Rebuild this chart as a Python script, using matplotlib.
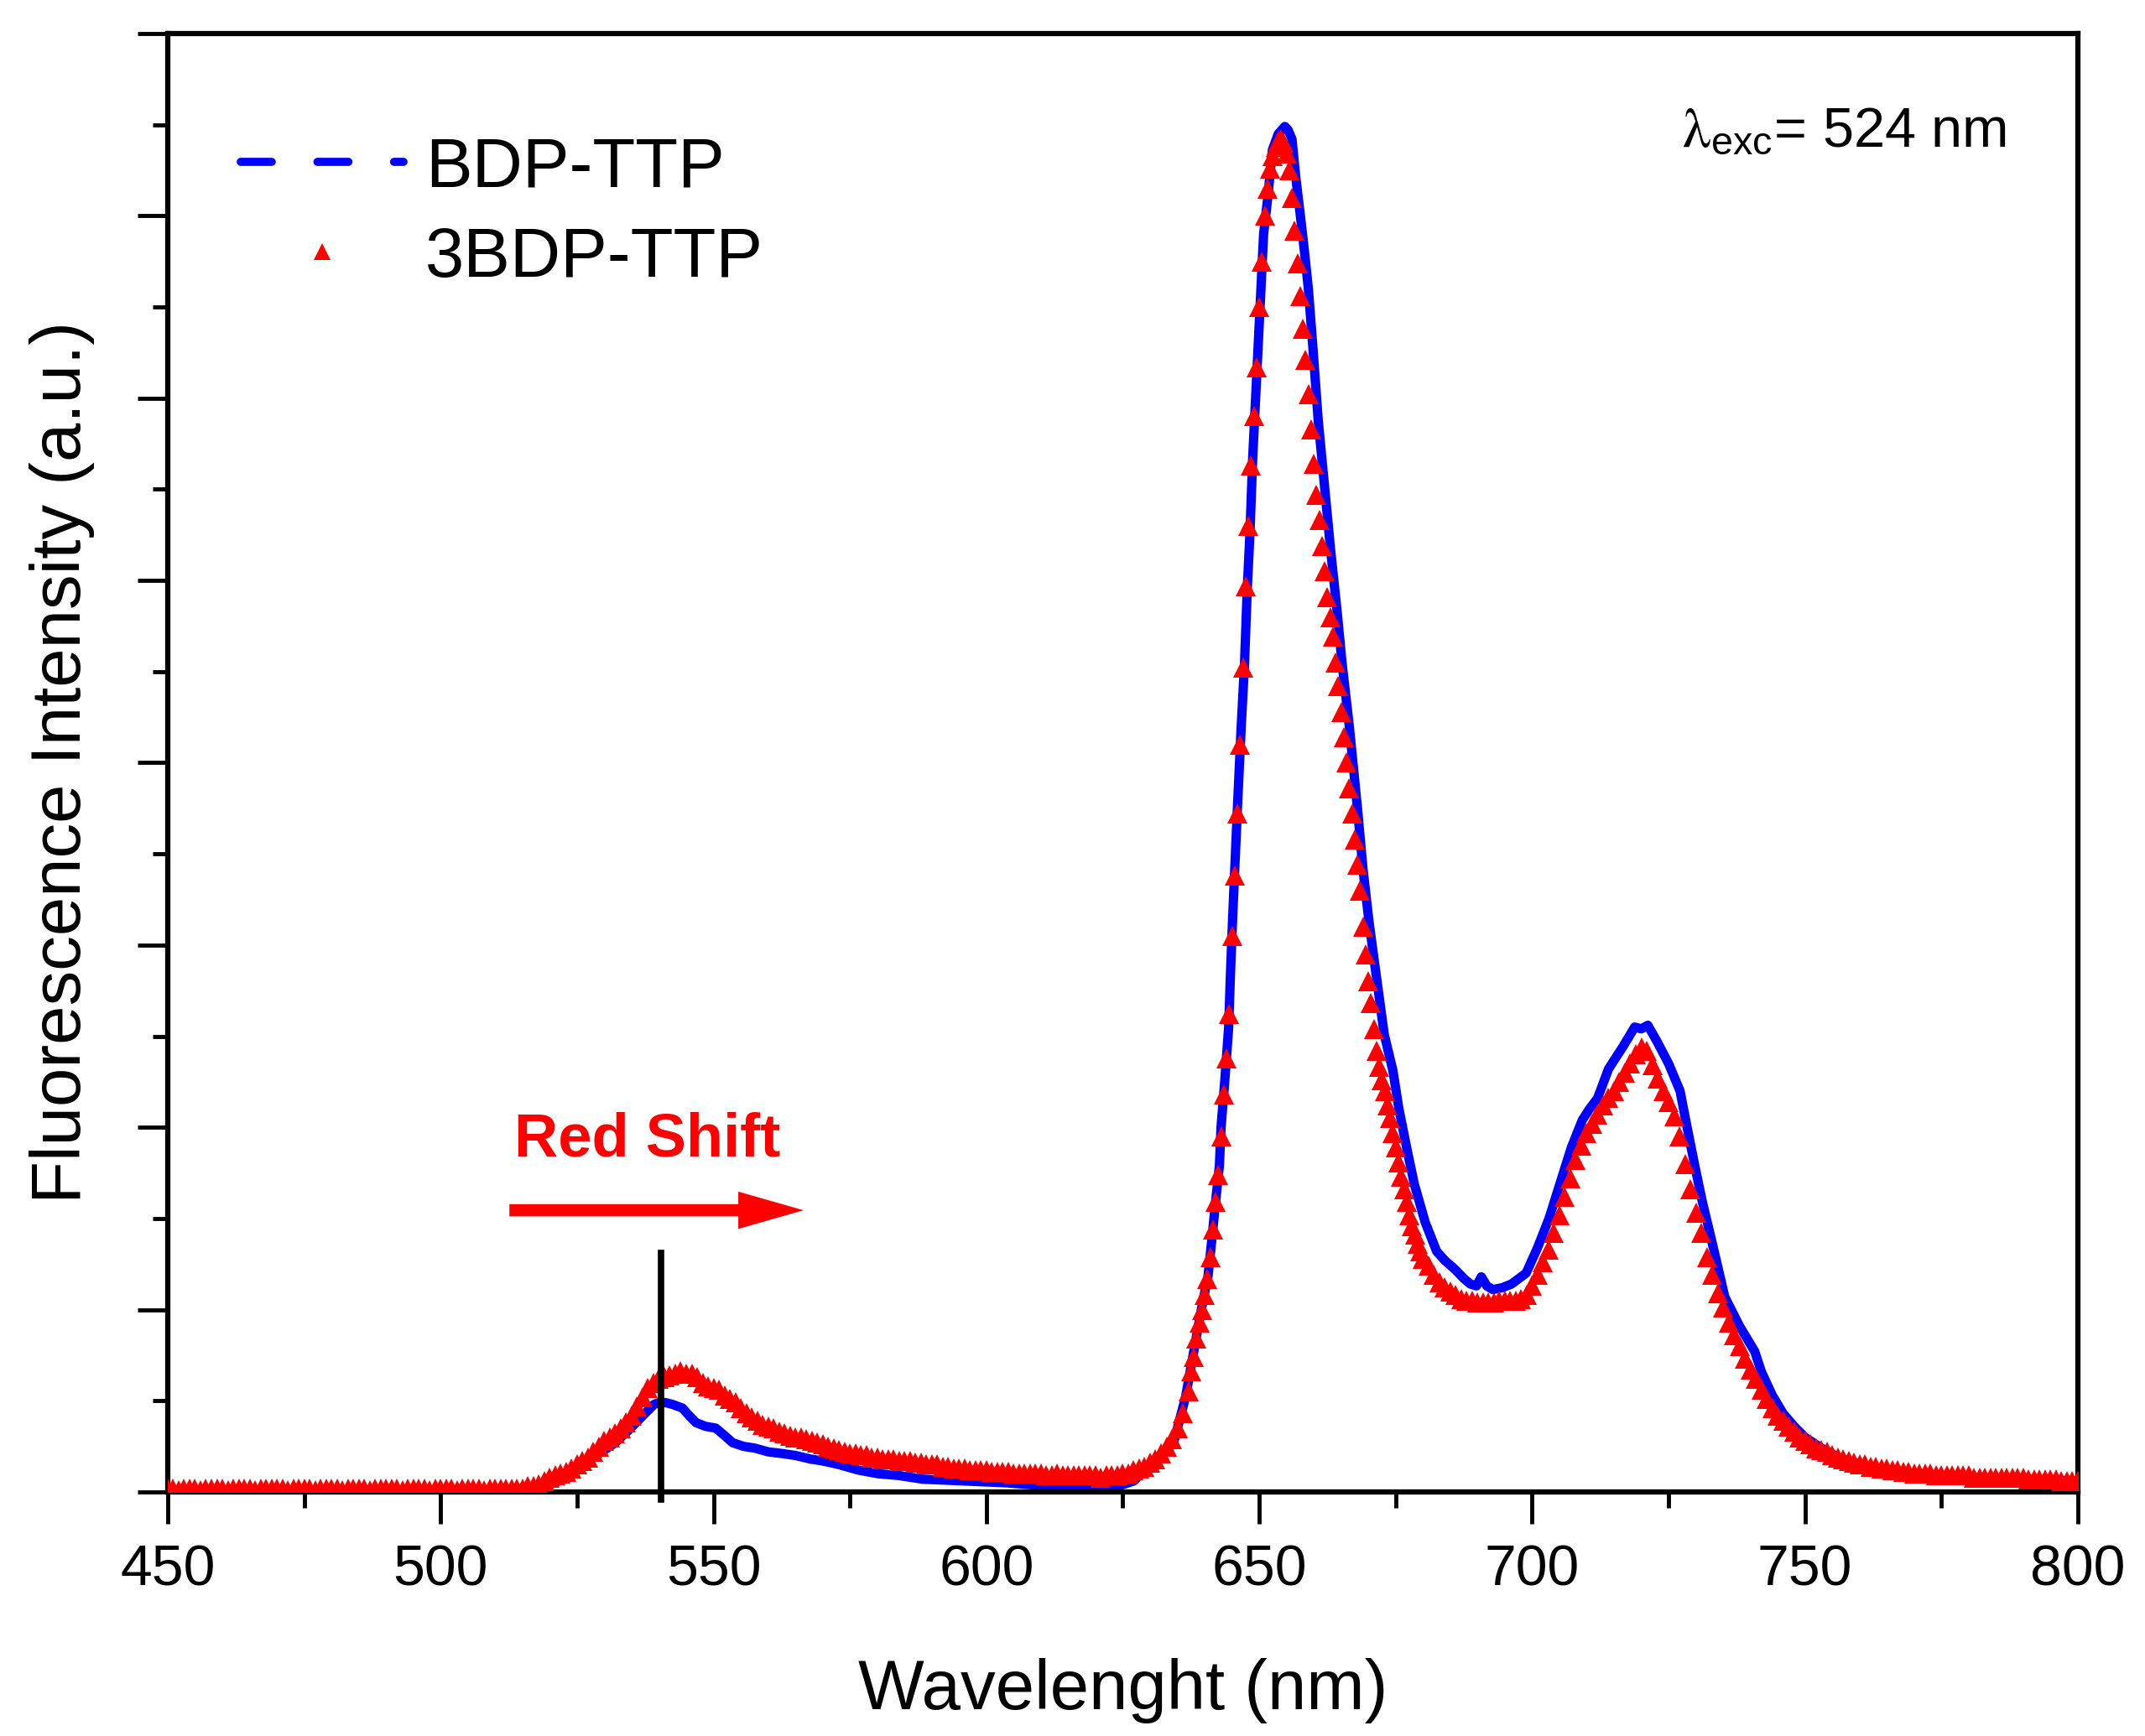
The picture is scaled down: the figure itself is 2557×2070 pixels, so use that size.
import numpy as np
import matplotlib
matplotlib.use("Agg")
import matplotlib.pyplot as plt
from matplotlib.lines import Line2D
from matplotlib.ticker import MultipleLocator

plt.rcParams['font.family'] = ['Liberation Sans', 'DejaVu Sans']

# ---------------- data ----------------
# BDP-TTP (blue line)
blue_wl = [450, 460, 470, 480, 490, 500, 510, 516, 519, 521.7,
           524, 526.9, 529.5, 532, 534.5, 537.1, 539.1, 540, 541.2, 542.5,
           544.3, 545.5, 546.8, 548.5, 550.4, 552, 553.5, 555.5, 557.6, 560,
           562.7, 565, 567.8, 570, 573, 576.5, 580.1, 584, 588.3, 592,
           596, 600, 603.7, 608, 614, 620, 624, 627, 629.4, 632,
           634.4, 636.5, 638.6, 639.7, 640.6, 641.3, 642, 642.7, 643, 643.7,
           644.4, 644.7, 645.1, 646, 646.7, 647.3, 647.8, 648.3, 648.8, 649.3,
           649.8, 650.3, 650.8, 651.6, 652.4, 653.5, 654.7, 655.3, 656.0, 656.7,
           657.5, 658.3, 659.0, 659.8, 660.8, 662.1, 663.1, 664.2, 665.2, 666.5,
           668, 669, 670.1, 671.5, 672.9, 674.5, 675.6, 677, 678.4, 680.4,
           682.5, 684, 685.9, 687.5, 688.7, 689.8, 690.7, 691.7, 692.8, 694.5,
           696.2, 698.9, 701.0, 703.1, 705.1, 707.2, 709.2, 710.5, 712.0, 714.0,
           716.8, 718.8, 720.0, 721.2, 722.9, 725.0, 727.1, 728.4, 729.8, 731.2,
           733.2, 735.3, 738.0, 740.8, 742, 744, 746, 748, 750, 753,
           756, 760, 765, 770, 780, 790, 800]
blue_int = [0.01, 0.01, 0.01, 0.01, 0.01, 0.01, 0.01, 0.02, 0.03, 0.06,
            0.10, 0.17, 0.22, 0.27, 0.34, 0.42, 0.48, 0.49, 0.49, 0.48,
            0.46, 0.42, 0.38, 0.36, 0.35, 0.31, 0.27, 0.25, 0.24, 0.22,
            0.21, 0.20, 0.18, 0.17, 0.15, 0.12, 0.10, 0.09, 0.07, 0.065,
            0.06, 0.055, 0.05, 0.04, 0.03, 0.03, 0.03, 0.06, 0.13, 0.20,
            0.28, 0.52, 0.87, 1.05, 1.18, 1.38, 1.59, 1.79, 2.00, 2.26,
            2.55, 2.82, 3.13, 3.75, 4.20, 4.54, 4.95, 5.26, 5.67, 5.98,
            6.29, 6.60, 6.90, 7.11, 7.36, 7.45, 7.49, 7.47, 7.42, 7.21,
            7.01, 6.80, 6.60, 6.29, 5.88, 5.47, 5.16, 4.85, 4.54, 4.20,
            3.75, 3.42, 3.13, 2.82, 2.51, 2.31, 2.10, 1.89, 1.69, 1.48,
            1.32, 1.27, 1.22, 1.17, 1.14, 1.13, 1.18, 1.13, 1.11, 1.12,
            1.14, 1.20, 1.34, 1.50, 1.69, 1.89, 2.04, 2.10, 2.16, 2.32,
            2.45, 2.55, 2.54, 2.56, 2.47, 2.35, 2.20, 2.00, 1.79, 1.59,
            1.34, 1.07, 0.91, 0.77, 0.66, 0.53, 0.43, 0.36, 0.30, 0.24,
            0.19, 0.15, 0.12, 0.10, 0.08, 0.07, 0.06]

# 3BDP-TTP (red triangles), sampled on the instrument grid
red_wl = np.concatenate([np.arange(450, 514, 1),
                         np.arange(514, 637.5, 1),
                         np.arange(637.5, 680.5, 0.5),
                         np.arange(681, 761, 1),
                         np.arange(761, 801, 1)])
red_int_a = [0.02, 0.02, 0.01, 0.02, 0.02, 0.02, 0.01, 0.02, 0.02, 0.02,
             0.02, 0.01, 0.02, 0.02, 0.02, 0.02, 0.01, 0.02, 0.02, 0.02,
             0.02, 0.02, 0.01, 0.02, 0.02, 0.02, 0.02, 0.01, 0.02, 0.02,
             0.02, 0.02, 0.01, 0.02, 0.02, 0.02, 0.02, 0.01, 0.02, 0.02,
             0.02, 0.02, 0.02, 0.01, 0.02, 0.02, 0.02, 0.02, 0.01, 0.02,
             0.02, 0.02, 0.02, 0.01, 0.02, 0.02, 0.02, 0.02, 0.01, 0.02,
             0.02, 0.02, 0.02, 0.02]
red_int_b = [0.02, 0.02, 0.03, 0.03, 0.04, 0.06, 0.08, 0.09, 0.10, 0.11,
             0.13, 0.15, 0.17, 0.19, 0.22, 0.25, 0.28, 0.30, 0.32, 0.35,
             0.38, 0.42, 0.47, 0.52, 0.57, 0.60, 0.62, 0.63, 0.64, 0.65,
             0.66, 0.65, 0.65, 0.63, 0.60, 0.58, 0.57, 0.56, 0.53, 0.51,
             0.49, 0.46, 0.43, 0.41, 0.39, 0.37, 0.36, 0.35, 0.33, 0.32,
             0.31, 0.30, 0.30, 0.29, 0.28, 0.27, 0.26, 0.25, 0.24, 0.23,
             0.22, 0.21, 0.21, 0.20, 0.20, 0.19, 0.19, 0.18, 0.18, 0.18,
             0.17, 0.17, 0.17, 0.16, 0.16, 0.15, 0.15, 0.15, 0.14, 0.14,
             0.13, 0.13, 0.13, 0.12, 0.12, 0.12, 0.12, 0.11, 0.11, 0.11,
             0.11, 0.10, 0.10, 0.10, 0.10, 0.10, 0.10, 0.09, 0.09, 0.10,
             0.09, 0.09, 0.09, 0.09, 0.09, 0.09, 0.09, 0.08, 0.09, 0.09,
             0.09, 0.10, 0.10, 0.12, 0.13, 0.14, 0.16, 0.18, 0.21, 0.25,
             0.29, 0.35, 0.43, 0.55]
red_int_c = [0.66, 0.74, 0.84, 0.93, 1.00, 1.08, 1.17, 1.29, 1.44, 1.59,
             1.74, 1.95, 2.18, 2.38, 2.62, 3.05, 3.38, 3.72, 4.10, 4.52,
             4.97, 5.30, 5.63, 5.90, 6.17, 6.50, 6.75, 7.00, 7.15, 7.26,
             7.33, 7.38, 7.41, 7.42, 7.40, 7.34, 7.25, 7.10, 6.92, 6.74,
             6.56, 6.38, 6.21, 6.02, 5.83, 5.64, 5.47, 5.33, 5.19, 5.05,
             4.91, 4.80, 4.69, 4.55, 4.42, 4.28, 4.14, 4.00, 3.86, 3.72,
             3.58, 3.44, 3.30, 3.10, 2.95, 2.80, 2.68, 2.54, 2.42, 2.33,
             2.26, 2.20, 2.12, 2.05, 1.97, 1.89, 1.81, 1.73, 1.66, 1.59,
             1.52, 1.46, 1.41, 1.36, 1.32, 1.28]
red_int_d = [1.24, 1.19, 1.15, 1.12, 1.10, 1.08, 1.06, 1.05, 1.05, 1.04,
             1.04, 1.04, 1.04, 1.05, 1.05, 1.05, 1.05, 1.06, 1.08, 1.13,
             1.19, 1.26, 1.33, 1.42, 1.52, 1.62, 1.72, 1.82, 1.90, 1.97,
             2.02, 2.07, 2.12, 2.16, 2.20, 2.25, 2.30, 2.35, 2.40, 2.44,
             2.42, 2.34, 2.27, 2.20, 2.14, 2.06, 1.95, 1.80, 1.66, 1.53,
             1.42, 1.29, 1.19, 1.09, 1.01, 0.93, 0.86, 0.80, 0.73, 0.67,
             0.62, 0.56, 0.51, 0.46, 0.42, 0.39, 0.36, 0.33, 0.30, 0.28,
             0.26, 0.24, 0.23, 0.22, 0.20, 0.19, 0.18, 0.17, 0.16, 0.15]
red_int_e = [0.15, 0.14, 0.14, 0.13, 0.13, 0.12, 0.12, 0.11, 0.11, 0.10,
             0.10, 0.10, 0.10, 0.09, 0.09, 0.09, 0.09, 0.09, 0.09, 0.09,
             0.08, 0.08, 0.08, 0.08, 0.08, 0.08, 0.08, 0.08, 0.08, 0.08,
             0.07, 0.07, 0.07, 0.07, 0.07, 0.07, 0.06, 0.06, 0.06, 0.06]
red_int = red_int_a + red_int_b + red_int_c + red_int_d + red_int_e

series_labels = ["BDP-TTP", "3BDP-TTP"]
x_ticks = [450, 500, 550, 600, 650, 700, 750, 800]
x_label = "Wavelenght (nm)"
y_label = "Fluorescence Intensity (a.u.)"
exc_text = r"$\mathrm{\lambda}_{\mathregular{exc}}$= 524 nm"
shift_text = "Red Shift"

# ---------------- figure ----------------
fig = plt.figure(figsize=(25.57, 20.70), dpi=100)
ax = fig.add_axes([0.0782, 0.1406, 0.8905, 0.8401])

ax.plot(blue_wl, blue_int, color='#0000ff', lw=8, solid_joinstyle='round', zorder=2)
ax.plot(red_wl, red_int, linestyle='none', marker='^', ms=17, color='#ff0000',
        markeredgewidth=0, zorder=3)

ax.set_xlim(450, 800)
ax.set_ylim(0, 8)
ax.set_xticks(x_ticks)
ax.xaxis.set_minor_locator(MultipleLocator(25))
ax.yaxis.set_major_locator(MultipleLocator(1))
ax.yaxis.set_minor_locator(MultipleLocator(0.5))
ax.set_yticklabels([])
ax.tick_params(axis='x', which='major', direction='out', length=27, width=3.5,
               labelsize=49, pad=17, top=False)
ax.tick_params(axis='x', which='minor', direction='out', length=14, width=3.5, top=False)
ax.tick_params(axis='y', which='major', direction='out', length=26, width=3.5, right=False)
ax.tick_params(axis='y', which='minor', direction='out', length=13, width=3.5, right=False)
for s in ax.spines.values():
    s.set_linewidth(4.5)

ax.set_xlabel(x_label, fontsize=60)
ax.set_ylabel(y_label, fontsize=60)
ax.xaxis.set_label_coords(0.5, -0.114)
ax.yaxis.set_label_coords(-0.038, 0.5)

# annotations
ax.text(786.9, 7.38, exc_text, fontsize=48, ha='right', va='baseline',
        math_fontfamily='stix')
ax.text(537.9, 1.93, shift_text, fontsize=52, fontweight='bold', color='#ff0000',
        ha='center', va='center')
ax.annotate('', xy=(566.5, 1.545), xytext=(512.6, 1.545),
            arrowprops=dict(arrowstyle='simple,head_length=56,head_width=32,tail_width=10.5',
                            mutation_scale=1, color='#ff0000', shrinkA=0, shrinkB=0, lw=0))
ax.plot([540.4, 540.4], [-0.04, 1.31], color='black', lw=5.5, clip_on=False, zorder=4)

# legend
h_blue = Line2D([], [], color='#0000ff', lw=7, linestyle=(0, (3.8, 5.6)),
                dash_capstyle='round')
h_red = Line2D([], [], color='#ff0000', linestyle='none', marker='^', ms=15,
               markeredgewidth=0)
fig.legend([h_blue, h_red], series_labels, loc='upper left',
           bbox_to_anchor=(0.1122, 0.922), bbox_transform=fig.transFigure,
           frameon=False, fontsize=60, handlelength=2.33, handletextpad=0.31,
           labelspacing=0.35, borderpad=0, borderaxespad=0)

fig.savefig('out.png', dpi=100)
